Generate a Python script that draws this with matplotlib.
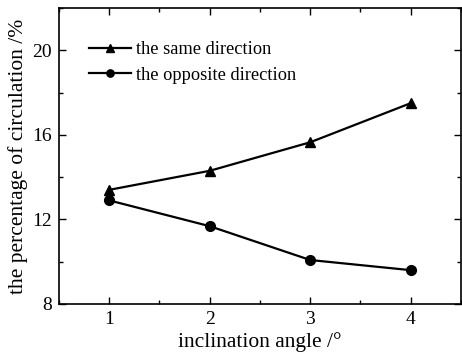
import matplotlib
matplotlib.use("Agg")
import matplotlib.pyplot as plt
from matplotlib.ticker import MultipleLocator

angles = [1, 2, 3, 4]
same_direction = [13.4, 14.3, 15.65, 17.5]
opposite_direction = [12.9, 11.68, 10.08, 9.6]
xticks = [1, 2, 3, 4]
yticks = [8, 12, 16, 20]

plt.rcParams['font.family'] = ['Liberation Serif', 'DejaVu Serif']
plt.rcParams['mathtext.fontset'] = 'stix'

fig = plt.figure(figsize=(4.62, 3.52), dpi=100)
ax = fig.add_axes([59/462, 48/352, 402/462, 296/352])

ax.plot(angles, same_direction, color='black', lw=1.6, marker='^', ms=7, label='the same direction')
ax.plot(angles, opposite_direction, color='black', lw=1.6, marker='o', ms=7, label='the opposite direction')

ax.set_xlim(0.5, 4.5)
ax.set_ylim(8, 22)
ax.set_xticks(xticks)
ax.set_yticks(yticks)
ax.xaxis.set_minor_locator(MultipleLocator(0.5))
ax.yaxis.set_minor_locator(MultipleLocator(2))
ax.tick_params(which='both', direction='in', top=True, right=True, labelsize=14, width=1)
ax.tick_params(which='major', length=5, pad=5)
ax.tick_params(which='minor', length=3)
for s in ax.spines.values():
    s.set_linewidth(1.2)

ax.set_xlabel('inclination angle /°', fontsize=15.5, labelpad=3)
ax.set_ylabel('the percentage of circulation /%', fontsize=15.5, labelpad=3)

leg = ax.legend(loc='upper left', bbox_to_anchor=(0.075, 0.887), frameon=False, fontsize=13.2,
                handlelength=2.3, handletextpad=0.25, labelspacing=0.45, borderaxespad=0,
                markerscale=0.75, borderpad=0)

fig.savefig('out.png', dpi=100)
